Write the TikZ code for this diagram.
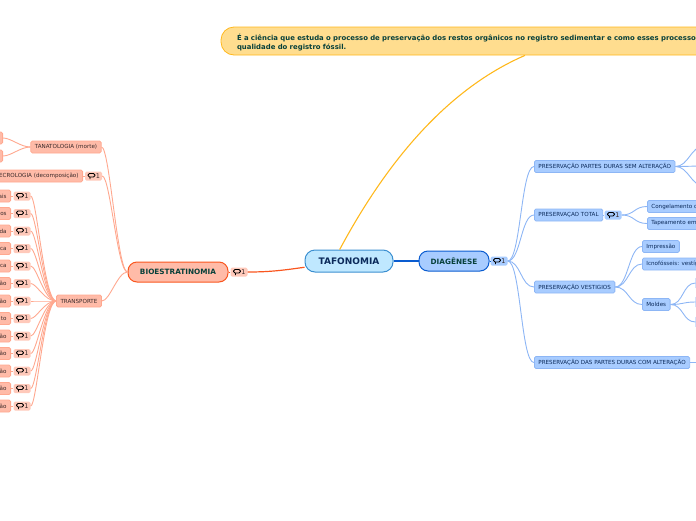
\documentclass[tikz,border=0pt]{standalone}
\usepackage{fontspec}
\setmainfont{DejaVu Sans}
\definecolor{rootfill}{HTML}{BFE8FF}
\definecolor{rootline}{HTML}{3B8FD0}
\definecolor{rootink}{HTML}{0B2A5A}
\definecolor{redfill}{HTML}{FFBBA8}
\definecolor{redpale}{HTML}{FFC9BA}
\definecolor{redline}{HTML}{FFA88F}
\definecolor{redmain}{HTML}{F9561F}
\definecolor{bluefill}{HTML}{A8CCFF}
\definecolor{blueline}{HTML}{8DB6F5}
\definecolor{bluemain}{HTML}{0A5CD0}
\definecolor{notefill}{HTML}{FFDD8F}
\definecolor{noteline}{HTML}{FFB81C}
\definecolor{greenink}{HTML}{07403A}
\definecolor{leafink}{HTML}{3A2A2A}
\tikzset{
  main/.style={draw, line width=1pt, rounded corners=9pt, inner sep=0pt, minimum height=20pt, font=\fontsize{7.3}{8}\selectfont\bfseries, text=greenink},
  leaf/.style={draw, line width=.8pt, rounded corners=1.5pt, inner xsep=4pt, inner ysep=0pt, minimum height=12pt, font=\fontsize{5.6}{6}\selectfont},
  redleaf/.style={leaf, fill=redfill, draw=redline, text=leafink},
  blueleaf/.style={leaf, fill=bluefill, draw=blueline, text=rootink},
  badge/.style={rounded corners=1.5pt, minimum width=17pt, minimum height=9pt, inner sep=0pt, font=\fontsize{6.5}{6.5}\selectfont, text=leafink,
    path picture={\draw[black, line width=.8pt] ([xshift=-5.5pt,yshift=2.5pt]path picture bounding box.center) rectangle ([xshift=1.5pt,yshift=-1pt]path picture bounding box.center) ([xshift=-3.5pt,yshift=-1pt]path picture bounding box.center) -- ([xshift=-3.5pt,yshift=-3pt]path picture bounding box.center);}},
  redline1/.style={redline, line width=.9pt},
  blueline1/.style={blueline, line width=.9pt},
  redlink/.style={out=180, in=0, out distance=12pt, in distance=6pt},
  biolink/.style={out=180, in=0, out distance=10pt, in distance=8pt},
  bluelink/.style={out=0, in=180, distance=13pt},
}
\begin{document}
\begin{tikzpicture}[x=1pt,y=-1pt]
\path[use as bounding box] (0,0) rectangle (696,520);
\clip (0,0) rectangle (696,520);
\node[main, fill=rootfill, draw=rootline, text=rootink, minimum width=88pt, minimum height=22pt, rounded corners=10pt, font=\fontsize{9}{9}\selectfont\bfseries] (root) at (349,261) {TAFONOMIA};
\node[main, fill=redfill, draw=redmain, minimum width=100pt] (bio) at (178,272) {BIOESTRATINOMIA};
\node[main, fill=bluefill, draw=bluemain, minimum width=70pt] (diag) at (454,261) {DIAGÊNESE};
\node[draw=noteline, fill=notefill, line width=.8pt, rounded corners=13pt, minimum width=608pt, minimum height=28pt, inner xsep=16pt, inner ysep=0pt, text width=576pt, align=left, text=greenink, font=\fontsize{6.9}{9}\selectfont\bfseries] (note) at (525,41) {\rule{0pt}{10pt}É a ciência que estuda o processo de preservação dos restos orgânicos no registro sedimentar e como esses processos\\qualidade do registro fóssil.};
\node[badge, fill=redpale] (biob) at (239,272) {\hspace*{9pt}1};
\node[badge, fill=bluefill] (diagb) at (499,261) {\hspace*{9pt}1};
\draw[noteline, line width=1.1pt] (root.129) .. controls (385,165) and (445,90) .. (note.south);
\draw[redmain, line width=1.2pt] (root.188) to[out=188,in=0] (biob.east);
\draw[redmain, line width=.8pt] (biob.west) -- (bio.east);
\draw[bluemain, line width=1.2pt] (root.east) -- (diag.west);
\draw[bluemain, line width=.8pt] (diag.east) -- (diagb.west);
\node[redleaf] (tana) at (66,147) {TANATOLOGIA (morte)};
\node[redleaf, anchor=east, text width=140pt, align=right] (necro) at (83,176) {ECROLOGIA (decomposição)};
\node[badge, fill=redpale] (necrob) at (93.5,176) {\hspace*{9pt}1};
\node[redleaf] (trans) at (79,301) {TRANSPORTE};
\node[redleaf, anchor=east, text width=30pt] (tana1) at (3,138) {};
\node[redleaf, anchor=east, text width=30pt] (tana2) at (3,156) {};
\draw[redline1] (bio.west) to[biolink] (tana.east);
\draw[redline1] (bio.west) to[biolink] (necrob.east);
\draw[redline1] (bio.west) to[biolink] (trans.east);
\draw[redline1] (necro.east) -- (necrob.west);
\draw[redline1] (tana.west) to[biolink] (tana1.east);
\draw[redline1] (tana.west) to[biolink] (tana2.east);
\foreach \txt/\ypos/\id in {ais/196/a,ios/213.5/b,da/231/c,ca/248.5/d,ca/266/e,ão/283.5/f,ão/301/g,to/318.5/h,ão/336/i,ão/353.5/j,ão/371/k,ão/388.5/l,ão/406/m}{
  \node[redleaf, anchor=east, text width=30pt, align=right] (leaf\id) at (11,\ypos) {\txt};
  \node[badge, fill=redpale] (badge\id) at (22,\ypos) {\hspace*{9pt}1};
  \draw[redline1] (leaf\id.east) -- (badge\id.west);
  \draw[redline1] (trans.west) to[redlink] (badge\id.east);
}
\node[blueleaf, anchor=west] (partes) at (534,166.5) {PRESERVAÇÃO PARTES DURAS SEM ALTERAÇÃO};
\node[blueleaf, anchor=west] (total) at (534,215) {PRESERVAÇAO TOTAL};
\node[badge, fill=bluefill] (totalb) at (613,215) {\hspace*{9pt}1};
\node[blueleaf, anchor=west] (vest) at (534,287) {PRESERVAÇÃO VESTIGIOS};
\node[blueleaf, anchor=west] (alter) at (534,362.5) {PRESERVAÇÃO DAS PARTES DURAS COM ALTERAÇÃO};
\node[blueleaf, anchor=west] (cong) at (647,206.5) {Congelamento o};
\node[blueleaf, anchor=west] (tape) at (647,223.5) {Tapeamento em};
\node[blueleaf, anchor=west] (impr) at (642,246.5) {Impressão};
\node[blueleaf, anchor=west] (icno) at (642,264) {Icnofósseis: vestíg};
\node[blueleaf, anchor=west] (mold) at (642,304.5) {Moldes};
\node[blueleaf, anchor=west, minimum width=20pt] (mold1) at (695.5,283) {};
\node[blueleaf, anchor=west, minimum width=20pt] (mold2) at (695.5,302) {};
\node[blueleaf, anchor=west, minimum width=20pt] (mold3) at (695.5,322) {};
\coordinate (partes1) at (704,146);
\coordinate (partes2) at (704,166);
\coordinate (partes3) at (704,186);
\coordinate (alter1) at (704,362.5);
\foreach \child in {partes,total,vest,alter}{
  \draw[blueline1] (diagb.east) to[bluelink] (\child.west);
}
\foreach \child in {partes1,partes2,partes3}{
  \draw[blueline1] (partes.east) to[bluelink] (\child);
}
\draw[blueline1] (alter.east) -- (alter1);
\draw[blueline1] (total.east) -- (totalb.west);
\foreach \child in {cong,tape}{
  \draw[blueline1] (totalb.east) to[bluelink] (\child.west);
}
\foreach \child in {impr,icno,mold}{
  \draw[blueline1] (vest.east) to[bluelink] (\child.west);
}
\foreach \child in {mold1,mold2,mold3}{
  \draw[blueline1] (mold.east) to[bluelink] (\child.west);
}
\end{tikzpicture}
\end{document}
